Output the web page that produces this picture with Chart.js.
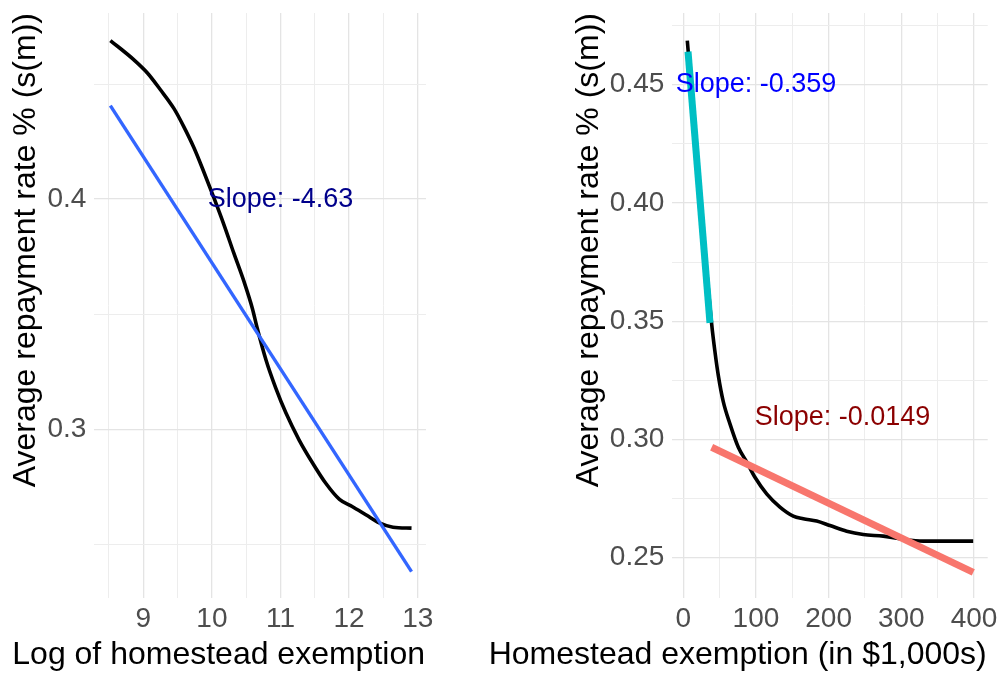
<!DOCTYPE html>
<html>
<head>
<meta charset="utf-8">
<script src="https://cdn.jsdelivr.net/npm/chart.js@4"></script>
<style>
  body { margin: 0; background: #fff; }
  #wrap { position: relative; width: 1001px; height: 675px; }
  canvas { position: absolute; top: 0; }
</style>
</head>
<body>
<div id="wrap">
  <canvas id="left_chart" width="470" height="675" style="left:0"></canvas>
  <canvas id="right_chart" width="531" height="675" style="left:470px"></canvas>
</div>
<script>
// Left panel: smoothed repayment rate against log exemption
const logExemption = [8.52, 8.86, 9.06, 9.25, 9.45, 9.59, 9.74, 9.88, 10.03, 10.18, 10.32, 10.47,
    10.59, 10.66, 10.79, 10.93, 11.08, 11.27, 11.47, 11.66, 11.86, 12.05, 12.25, 12.44, 12.64, 12.91];
const logRepayment = [0.4689, 0.4606, 0.4548, 0.4475, 0.4392, 0.4315, 0.4222, 0.4120, 0.4005, 0.3885,
    0.3765, 0.3640, 0.3525, 0.3440, 0.3300, 0.3180, 0.3070, 0.2954, 0.2852, 0.2765, 0.2695, 0.2663,
    0.2627, 0.2593, 0.2574, 0.2570];
const logFitX = [8.52, 12.91];
const logFitY = [0.4406, 0.2381];

// Right panel: smoothed repayment rate against exemption in $1,000s
const exemption = [5.5, 22, 39.1, 43.6, 48.2, 55, 64.2, 75.7, 87.2, 98.6, 114.7, 133, 151.3, 165.1,
    183.5, 201.8, 224.8, 247.6, 275.1, 298, 330.1, 398.9];
const repayment = [0.4687, 0.408, 0.3486, 0.3370, 0.3270, 0.3160, 0.3066, 0.2967, 0.2905, 0.2840,
    0.2770, 0.2714, 0.2676, 0.2665, 0.2655, 0.2636, 0.2612, 0.2598, 0.2591, 0.2580, 0.2570, 0.2570];
const lowFitX = [6.5, 36.7];
const lowFitY = [0.464, 0.3493];
const highFitX = [39, 399];
const highFitY = [0.2967, 0.2438];

// Slope annotations: text, x, y, colour
const leftNotes = [['Slope: -4.63', 11, 0.4, '#00008B']];
const rightNotes = [['Slope: -0.359', 100, 0.45, '#0000FF'], ['Slope: -0.0149', 219, 0.3092, '#8B0000']];

// Axis breaks (majors get labels, minors only grid lines)
const leftXGrid = [8.5, 9, 9.5, 10, 10.5, 11, 11.5, 12, 12.5, 13];
const leftXLabels = ['9', '10', '11', '12', '13'];
const leftYGrid = [0.25, 0.3, 0.35, 0.4, 0.45];
const leftYLabels = ['0.3', '0.4'];
const rightXGrid = [0, 50, 100, 150, 200, 250, 300, 350, 400];
const rightXLabels = ['0', '100', '200', '300', '400'];
const rightYGrid = [0.25, 0.275, 0.3, 0.325, 0.35, 0.375, 0.4, 0.425, 0.45, 0.475];
const rightYLabels = ['0.25', '0.30', '0.35', '0.40', '0.45'];

const FONT = '"Liberation Sans", Arial, sans-serif';
Chart.defaults.font.family = FONT;

function toPoints(xs, ys) {
    return xs.map((x, i) => ({ x: x, y: ys[i] }));
}

function labelFor(labels) {
    return function (value) {
        const hit = labels.find(l => Math.abs(parseFloat(l) - value) < 1e-9);
        return hit === undefined ? '' : hit;
    };
}

function isMajor(labels, value) {
    return labels.some(l => Math.abs(parseFloat(l) - value) < 1e-9);
}

function makeAxis(opts) {
    const horizontal = opts.axis === 'x';
    return {
        type: 'linear',
        position: horizontal ? 'bottom' : 'left',
        min: opts.min,
        max: opts.max,
        afterBuildTicks: s => { s.ticks = opts.grid.map(v => ({ value: v })); },
        afterFit: s => {
            if (horizontal) s.height = opts.size; else s.width = opts.size;
            s.paddingLeft = 0; s.paddingRight = 0; s.paddingTop = 0; s.paddingBottom = 0;
        },
        border: { display: false },
        grid: {
            drawTicks: false,
            color: c => isMajor(opts.labels, c.tick.value) ? '#E4E4E4' : '#EDEDED',
            lineWidth: c => isMajor(opts.labels, c.tick.value) ? 1.3 : 1,
        },
        ticks: {
            autoSkip: false,
            maxRotation: 0,
            padding: horizontal ? 4 : 8,
            color: '#4D4D4D',
            font: { size: 28 },
            callback: labelFor(opts.labels),
        },
        // the x title is drawn by the notes plugin so it is not squeezed to the plot width
        title: {
            display: !horizontal,
            text: opts.title,
            align: 'end',
            color: '#000',
            font: { size: 32 },
            padding: opts.titlePad,
        },
    };
}

// Draws the slope notes in data coordinates, plus the x axis title
const notesPlugin = {
    id: 'notes',
    afterDraw(chart, args, options) {
        const ctx = chart.ctx;
        const xs = chart.scales.x, ys = chart.scales.y;
        ctx.save();
        ctx.font = '27px ' + FONT;
        ctx.textAlign = 'center';
        ctx.textBaseline = 'middle';
        options.items.forEach(([text, x, y, color]) => {
            ctx.fillStyle = color;
            ctx.fillText(text, xs.getPixelForValue(x), ys.getPixelForValue(y));
        });
        ctx.font = '32px ' + FONT;
        ctx.textAlign = 'right';
        ctx.fillStyle = '#000';
        ctx.fillText(options.xTitle, xs.right - 1, xs.bottom - 19.6);
        ctx.restore();
    }
};

function curve(points) {
    return {
        data: points, borderColor: '#000', borderWidth: 3.6, pointRadius: 0,
        cubicInterpolationMode: 'monotone', order: 2,
    };
}

function fit(points, color, width) {
    return { data: points, borderColor: color, borderWidth: width, pointRadius: 0, order: 1 };
}

new Chart(document.getElementById('left_chart'), {
    type: 'line',
    data: {
        datasets: [
            curve(toPoints(logExemption, logRepayment)),
            fit(toPoints(logFitX, logFitY), '#3366FF', 3.4),
        ],
    },
    plugins: [notesPlugin],
    options: {
        responsive: false,
        animation: false,
        layout: { padding: { top: 13, right: 44, left: 0, bottom: 0 } },
        scales: {
            x: makeAxis({ axis: 'x', min: 8.286, max: 13.121, grid: leftXGrid, labels: leftXLabels, size: 76.7 }),
            y: makeAxis({ axis: 'y', min: 0.22652, max: 0.48087, grid: leftYGrid, labels: leftYLabels,
                size: 94.3, title: 'Average repayment rate % (s(m))', titlePad: { top: 7, bottom: 0 } }),
        },
        plugins: {
            legend: { display: false }, tooltip: { enabled: false },
            notes: { items: leftNotes, xTitle: 'Log of homestead exemption' },
        },
    },
});

new Chart(document.getElementById('right_chart'), {
    type: 'line',
    data: {
        datasets: [
            curve(toPoints(exemption, repayment)),
            fit(toPoints(lowFitX, lowFitY), '#00BFC4', 7),
            fit(toPoints(highFitX, highFitY), '#F8766D', 7),
        ],
    },
    plugins: [notesPlugin],
    options: {
        responsive: false,
        animation: false,
        layout: { padding: { top: 13, right: 13.3, left: 100, bottom: 0 } },
        scales: {
            x: makeAxis({ axis: 'x', min: -15.14, max: 418.85, grid: rightXGrid, labels: rightXLabels, size: 76.7 }),
            y: makeAxis({ axis: 'y', min: 0.23282, max: 0.48034, grid: rightYGrid, labels: rightYLabels,
                size: 102.3, title: 'Average repayment rate % (s(m))', titlePad: { top: 0, bottom: 0 } }),
        },
        plugins: {
            legend: { display: false }, tooltip: { enabled: false },
            notes: { items: rightNotes, xTitle: 'Homestead exemption (in $1,000s)' },
        },
    },
});
</script>
</body>
</html>
